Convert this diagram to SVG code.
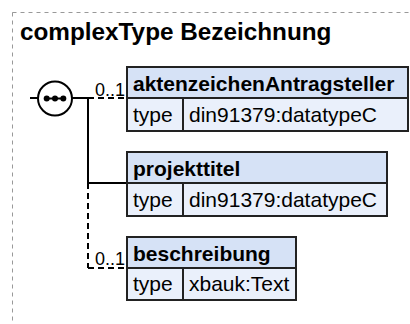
<svg xmlns="http://www.w3.org/2000/svg" width="410" height="324" viewBox="0 0 410 324">
<style>
.frame{fill:none;stroke:#999;stroke-width:1;stroke-dasharray:4,4}
.title{font-family:"Liberation Sans",Arial,sans-serif;font-weight:bold;font-size:24.3px;fill:#000}
.hdr{fill:#d6e2f6;stroke:#222;stroke-width:2}
.row{fill:#eaf0fb;stroke:#222;stroke-width:2}
.name{font-family:"Liberation Sans",Arial,sans-serif;font-weight:bold;font-size:21px;fill:#000}
.txt{font-family:"Liberation Sans",Arial,sans-serif;font-size:21px;fill:#000}
.card{font-family:"Liberation Sans",Arial,sans-serif;font-size:18px;fill:#000;text-anchor:end}
.ln{fill:none;stroke:#000;stroke-width:2}
.dl{fill:none;stroke:#000;stroke-width:2;stroke-dasharray:6,4}
</style>
<rect class="frame" x="12.5" y="12.5" width="420" height="330"/>
<text class="title" x="20" y="40">complexType Bezeichnung</text>
<g id="connectors">
<line class="ln" x1="30" y1="98" x2="38" y2="98"/>
<line class="ln" x1="72" y1="98" x2="88" y2="98"/>
<line class="dl" x1="88" y1="98" x2="127" y2="98"/>
<line class="ln" x1="88" y1="98" x2="88" y2="183"/>
<line class="ln" x1="88" y1="183" x2="127" y2="183"/>
<line class="dl" x1="88" y1="183" x2="88" y2="268"/>
<line class="dl" x1="88" y1="268" x2="127" y2="268"/>
<text class="card" x="125" y="96">0..1</text>
<text class="card" x="125" y="265">0..1</text>
</g>
<g id="sequence">
<circle cx="55" cy="98.5" r="17" fill="#fff" stroke="#000" stroke-width="2"/>
<line x1="45" y1="98.5" x2="65" y2="98.5" stroke="#000" stroke-width="2"/>
<circle cx="46.7" cy="98.5" r="3" fill="#000"/>
<circle cx="55" cy="98.5" r="3" fill="#000"/>
<circle cx="63.3" cy="98.5" r="3" fill="#000"/>
</g>
<g id="aktenzeichenAntragsteller">
<rect class="hdr" x="127" y="67" width="281" height="31"/>
<rect class="row" x="127" y="98" width="56" height="33"/>
<rect class="row" x="183" y="98" width="225" height="33"/>
<text class="name" x="133" y="91">aktenzeichenAntragsteller</text>
<text class="txt" x="133" y="122">type</text>
<text class="txt" x="189" y="122">din91379:datatypeC</text>
</g>
<g id="projekttitel">
<rect class="hdr" x="127" y="152" width="260" height="31"/>
<rect class="row" x="127" y="183" width="56" height="33"/>
<rect class="row" x="183" y="183" width="204" height="33"/>
<text class="name" x="133" y="176">projekttitel</text>
<text class="txt" x="133" y="207">type</text>
<text class="txt" x="189" y="207">din91379:datatypeC</text>
</g>
<g id="beschreibung">
<rect class="hdr" x="127" y="237" width="169" height="31"/>
<rect class="row" x="127" y="268" width="56" height="32"/>
<rect class="row" x="183" y="268" width="113" height="32"/>
<text class="name" x="133" y="261">beschreibung</text>
<text class="txt" x="133" y="291">type</text>
<text class="txt" x="189" y="291">xbauk:Text</text>
</g>
</svg>
